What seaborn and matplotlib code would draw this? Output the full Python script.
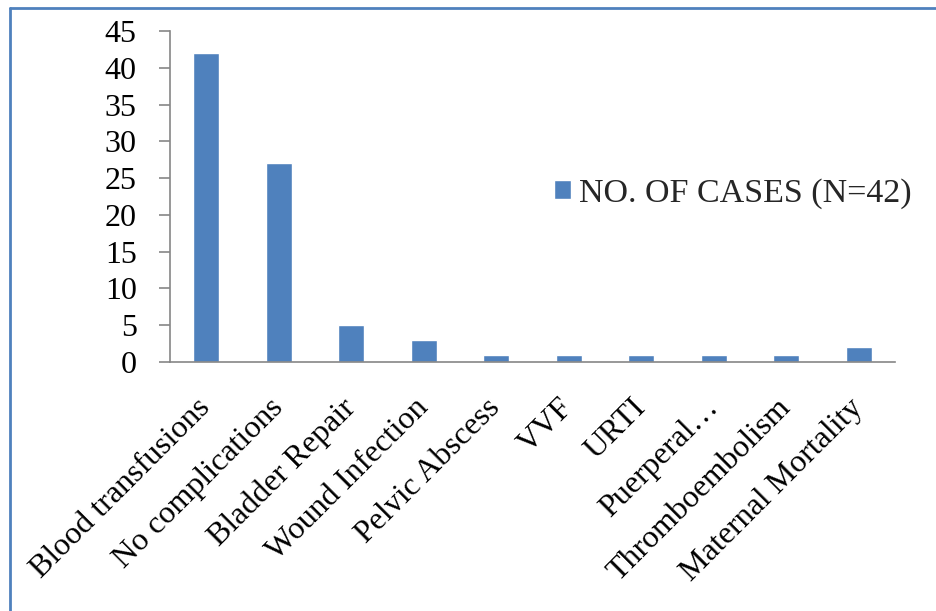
import matplotlib
matplotlib.use("Agg")
import matplotlib.pyplot as plt
import seaborn as sns
import pandas as pd
from matplotlib.lines import Line2D

categories = ["Blood transfusions", "No complications", "Bladder Repair", "Wound Infection",
              "Pelvic Abscess", "VVF", "URTI", "Puerperal…", "Thromboembolism", "Maternal Mortality"]
cases = [42, 27, 5, 3, 1, 1, 1, 1, 1, 2]
series_name = "NO. OF CASES (N=42)"
yticks = [0, 5, 10, 15, 20, 25, 30, 35, 40, 45]

sns.set_theme(style="white")
plt.rcParams['font.family'] = ['Liberation Serif', 'DejaVu Serif']

df = pd.DataFrame({"cat": categories, "val": cases, "series": series_name})

W, H = 936, 611
fig = plt.figure(figsize=(W/100, H/100), dpi=100)
ax = fig.add_axes([170/W, 1-362/H, 725/W, 331/H])

sns.barplot(data=df, x="cat", y="val", hue="series", palette=["#4F81BD"],
            width=0.36, ax=ax, saturation=1, legend=True)

ax.set_xlim(-0.5, len(categories)-0.5)
ax.set_ylim(0, 45)
ax.set_yticks(yticks)
ax.set_yticklabels([str(t) for t in yticks], fontsize=23, color="black")
ax.set_xlabel("")
ax.set_ylabel("")

ax.set_xticks(range(len(categories)))
ax.set_xticklabels(categories, fontsize=23, rotation=45, ha="right", va="center",
                   rotation_mode="anchor", color="black")
ax.tick_params(axis="x", which="major", length=0, pad=30)
ax.set_xticks([i-0.5 for i in range(len(categories)+1)], minor=True)
ax.tick_params(axis="x", which="minor", length=8, width=1.2, color="#868686", direction="out")
ax.tick_params(axis="y", which="major", length=8, width=1.2, color="#868686", direction="out",
               left=True, pad=16)

for s in ["top", "right"]:
    ax.spines[s].set_visible(False)
for s in ["left", "bottom"]:
    ax.spines[s].set_color("#868686")
    ax.spines[s].set_linewidth(1.2)

leg = ax.legend(loc="center left", bbox_to_anchor=(0.506, 0.51), frameon=False,
                fontsize=24.5, handlelength=0.5, handleheight=0.5, handletextpad=0.25,
                borderpad=0)

fig.add_artist(Line2D([10/W, 1], [1-8/H, 1-8/H], color="#4F81BD", lw=2, transform=fig.transFigure))
fig.add_artist(Line2D([10/W, 10/W], [0, 1-8/H], color="#4F81BD", lw=2, transform=fig.transFigure))

fig.savefig("out.png", dpi=100, facecolor="white")
